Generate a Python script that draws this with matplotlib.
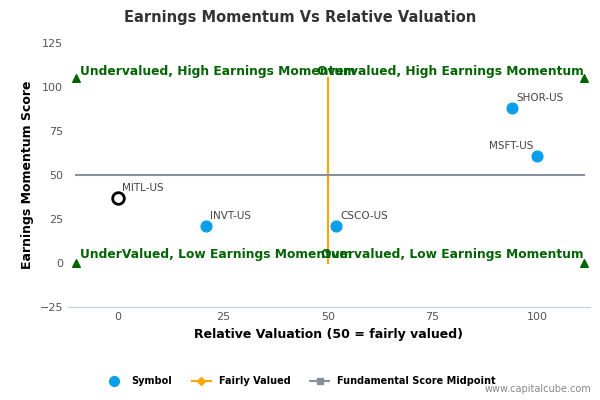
import matplotlib.pyplot as plt
from matplotlib.lines import Line2D

names = ["MITL-US", "INVT-US", "CSCO-US", "SHOR-US", "MSFT-US"]
rel_val = [0, 21, 52, 94, 100]
momentum = [37, 21, 21, 88, 61]
tri_x = [-10, 111, -10, 111]
tri_y = [105, 105, 0, 0]

fig = plt.figure(figsize=(6, 4), dpi=100)
ax = fig.add_axes([0.113, 0.232, 0.87, 0.66])

ax.plot([50, 50], [0, 105], color="#FFA500", lw=1.5, zorder=2)
ax.plot([-10, 111], [50, 50], color="#8A8F9C", lw=1.5, zorder=2)
ax.scatter(tri_x, tri_y, marker="^", color="#006400", s=30, zorder=3)

for n, x, y in zip(names, rel_val, momentum):
    if n == "MITL-US":
        ax.scatter(x, y, s=70, facecolor="white", edgecolor="black", lw=2, zorder=4)
    else:
        ax.scatter(x, y, s=60, color="#0B9FEB", zorder=4)
    ha = "right" if n == "MSFT-US" else "left"
    dx = -1 if n == "MSFT-US" else 1
    ax.text(x + dx, y + 3, n, fontsize=7.5, color="#444444", ha=ha, va="bottom")

g = dict(color="#006400", fontsize=8.8, fontweight="bold", va="center")
ax.text(-9, 109, "Undervalued, High Earnings Momentum", ha="left", **g)
ax.text(111, 109, "Overvalued, High Earnings Momentum", ha="right", **g)
ax.text(-9, 5, "UnderValued, Low Earnings Momentum", ha="left", **g)
ax.text(111, 5, "Overvalued, Low Earnings Momentum", ha="right", **g)

ax.set_xlim(-12, 112.5)
ax.set_ylim(-25, 125)
ax.set_xticks([0, 25, 50, 75, 100])
ax.set_yticks([-25, 0, 25, 50, 75, 100, 125])
ax.tick_params(labelsize=8, colors="#555555", length=0)
for s in ["top", "right", "left"]:
    ax.spines[s].set_visible(False)
ax.spines["bottom"].set_color("#C0D0E0")
ax.set_xlabel("Relative Valuation (50 = fairly valued)", fontsize=9, fontweight="bold")
ax.set_ylabel("Earnings Momentum Score", fontsize=9, fontweight="bold")
fig.suptitle("Earnings Momentum Vs Relative Valuation", x=0.5, y=0.975, fontsize=10.5,
             fontweight="bold", color="#333333")

handles = [
    Line2D([], [], marker="o", color="#0B9FEB", ls="none", ms=7),
    Line2D([], [], marker="D", color="#FFA500", ms=4, lw=1.5),
    Line2D([], [], marker="s", color="#8A8F9C", ms=5, lw=1.5),
]
fig.legend(handles, ["Symbol", "Fairly Valued", "Fundamental Score Midpoint"],
           loc="center", bbox_to_anchor=(0.5, 0.047), ncol=3, frameon=False,
           prop={"size": 7, "weight": "bold"})
fig.text(0.985, 0.02, "www.capitalcube.com", ha="right", fontsize=7, color="#888888")

fig.savefig("out.png")
